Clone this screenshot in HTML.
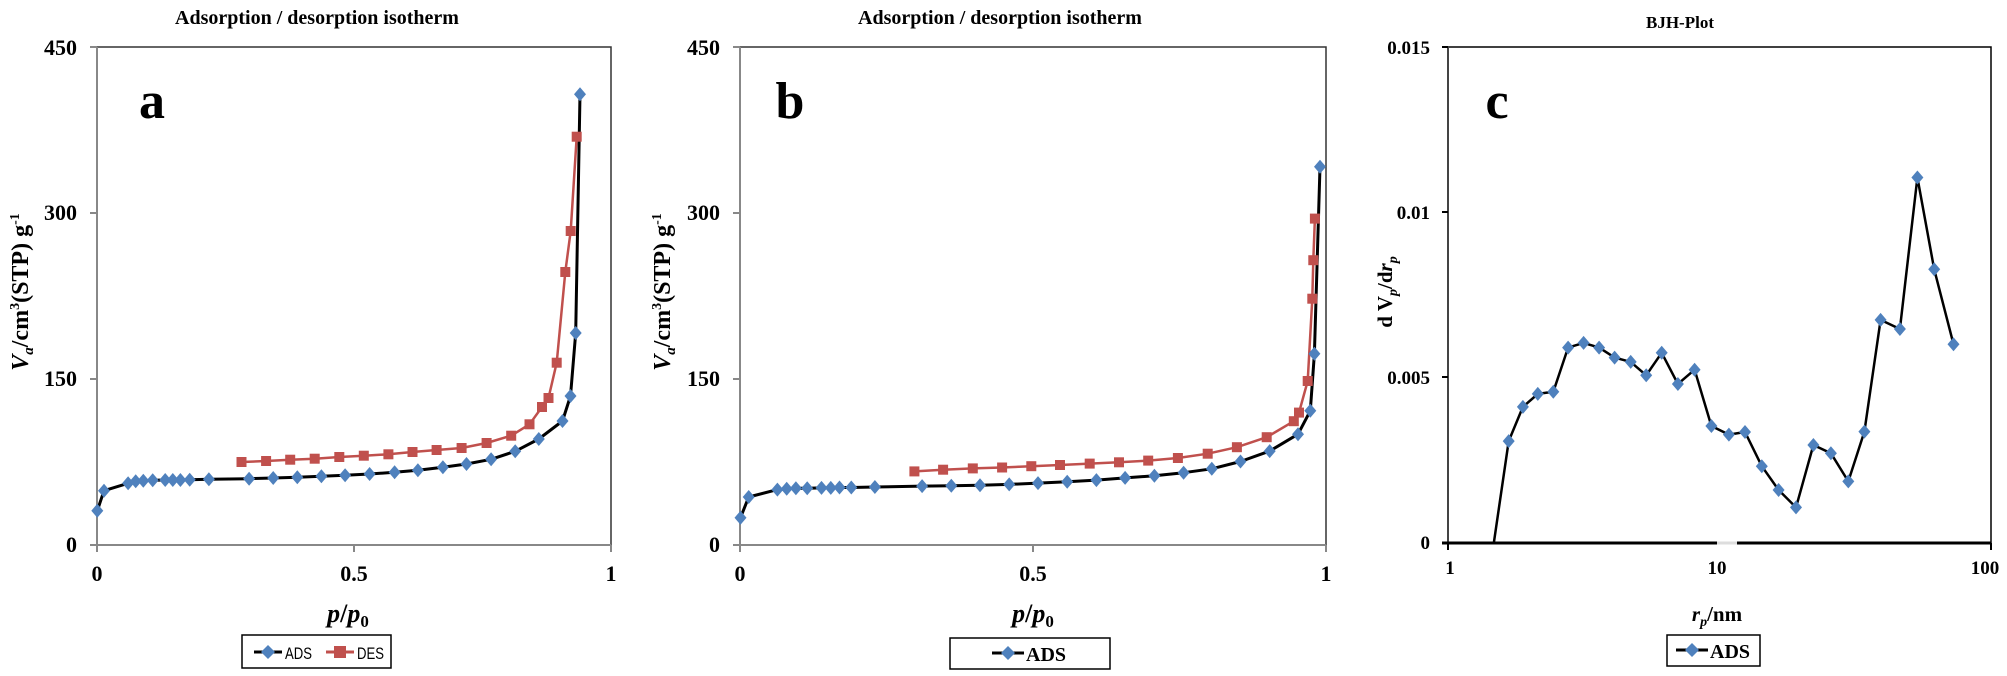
<!DOCTYPE html>
<html><head><meta charset="utf-8"><style>
html,body{margin:0;padding:0;background:#fff;}
svg{display:block;}
text{font-family:"Liberation Serif",serif;font-weight:bold;fill:#000;}
</style></head><body>
<svg id="s" width="2007" height="676" viewBox="0 0 2007 676" xmlns="http://www.w3.org/2000/svg">
<rect width="2007" height="676" fill="#fff"/>
<text x="317" y="24" font-size="20" text-anchor="middle">Adsorption / desorption isotherm</text>
<text x="1000" y="24" font-size="20" text-anchor="middle">Adsorption / desorption isotherm</text>
<text x="1680" y="28" font-size="17" text-anchor="middle">BJH-Plot</text>

<rect x="97" y="47" width="514" height="498" fill="none" stroke="#333" stroke-width="1.5"/>
<line x1="97" y1="47" x2="97" y2="545" stroke="#888" stroke-width="2"/>
<line x1="97" y1="545" x2="611" y2="545" stroke="#888" stroke-width="2"/>
<g stroke="#888" stroke-width="2">
<line x1="90" y1="47" x2="97" y2="47"/><line x1="90" y1="213" x2="97" y2="213"/><line x1="90" y1="379" x2="97" y2="379"/><line x1="90" y1="545" x2="97" y2="545"/>
<line x1="97" y1="545" x2="97" y2="552"/><line x1="354" y1="545" x2="354" y2="552"/><line x1="611" y1="545" x2="611" y2="552"/>
</g>
<g font-size="22" text-anchor="end">
<text x="77" y="55">450</text><text x="77" y="220">300</text><text x="77" y="386">150</text><text x="77" y="552">0</text>
</g>
<g font-size="22" text-anchor="middle">
<text x="97" y="581">0</text><text x="354" y="581">0.5</text><text x="611" y="581">1</text>
</g>
<text x="348" y="622" font-size="26" text-anchor="middle"><tspan font-style="italic">p</tspan>/<tspan font-style="italic">p</tspan><tspan font-size="17" dy="5">0</tspan></text>
<text x="152" y="118" font-size="52" text-anchor="middle">a</text>
<text transform="translate(28,292) rotate(-90)" font-size="24" text-anchor="middle"><tspan font-style="italic">V</tspan><tspan font-size="15" dy="5" font-style="italic">a</tspan><tspan dy="-5">/cm</tspan><tspan font-size="14" dy="-9">3</tspan><tspan dy="9">(STP) g</tspan><tspan font-size="14" dy="-9">-1</tspan></text>
<rect x="242" y="635" width="149" height="33" fill="#fff" stroke="#000" stroke-width="1.5"/>
<line x1="254" y1="652" x2="282" y2="652" stroke="#000" stroke-width="3"/>
<polygon points="268,645 275,652 268,659 261,652" fill="#4F81BD"/>
<text x="285" y="659" font-size="17" textLength="27" lengthAdjust="spacingAndGlyphs" style="font-family:'Liberation Sans',sans-serif;font-weight:normal">ADS</text>
<line x1="326" y1="652" x2="354" y2="652" stroke="#C0504D" stroke-width="3"/>
<rect x="334" y="646" width="12" height="12" fill="#C0504D"/>
<text x="357" y="659" font-size="17" textLength="27" lengthAdjust="spacingAndGlyphs" style="font-family:'Liberation Sans',sans-serif;font-weight:normal">DES</text>

<rect x="740" y="47" width="586" height="498" fill="none" stroke="#333" stroke-width="1.5"/>
<line x1="740" y1="47" x2="740" y2="545" stroke="#888" stroke-width="2"/>
<line x1="740" y1="545" x2="1326" y2="545" stroke="#888" stroke-width="2"/>
<g stroke="#888" stroke-width="2">
<line x1="733" y1="47" x2="740" y2="47"/><line x1="733" y1="213" x2="740" y2="213"/><line x1="733" y1="379" x2="740" y2="379"/><line x1="733" y1="545" x2="740" y2="545"/>
<line x1="740" y1="545" x2="740" y2="552"/><line x1="1033" y1="545" x2="1033" y2="552"/><line x1="1326" y1="545" x2="1326" y2="552"/>
</g>
<g font-size="22" text-anchor="end">
<text x="720" y="55">450</text><text x="720" y="220">300</text><text x="720" y="386">150</text><text x="720" y="552">0</text>
</g>
<g font-size="22" text-anchor="middle">
<text x="740" y="581">0</text><text x="1033" y="581">0.5</text><text x="1326" y="581">1</text>
</g>
<text x="1033" y="622" font-size="26" text-anchor="middle"><tspan font-style="italic">p</tspan>/<tspan font-style="italic">p</tspan><tspan font-size="17" dy="5">0</tspan></text>
<text x="790" y="118" font-size="52" text-anchor="middle">b</text>
<text transform="translate(670,292) rotate(-90)" font-size="24" text-anchor="middle"><tspan font-style="italic">V</tspan><tspan font-size="15" dy="5" font-style="italic">a</tspan><tspan dy="-5">/cm</tspan><tspan font-size="14" dy="-9">3</tspan><tspan dy="9">(STP) g</tspan><tspan font-size="14" dy="-9">-1</tspan></text>
<rect x="950" y="638" width="160" height="31" fill="#fff" stroke="#000" stroke-width="1.5"/>
<line x1="992" y1="653" x2="1024" y2="653" stroke="#000" stroke-width="3"/>
<polygon points="1008,646 1015,653 1008,660 1001,653" fill="#4F81BD"/>
<text x="1026" y="661" font-size="20">ADS</text>

<rect x="1448" y="47" width="543" height="496" fill="none" stroke="#000" stroke-width="1.5"/>
<line x1="1448" y1="47" x2="1448" y2="543" stroke="#444" stroke-width="2"/>
<line x1="1442" y1="543" x2="1991" y2="543" stroke="#000" stroke-width="3"/>
<line x1="1717" y1="543" x2="1737" y2="543" stroke="#ddd" stroke-width="3"/>
<g stroke="#000" stroke-width="2">
<line x1="1442" y1="47" x2="1448" y2="47"/><line x1="1442" y1="212" x2="1448" y2="212"/><line x1="1442" y1="377" x2="1448" y2="377"/>
<line x1="1448" y1="543" x2="1448" y2="550"/><line x1="1991" y1="543" x2="1991" y2="550"/>
</g>
<g font-size="19" text-anchor="end">
<text x="1430" y="54">0.015</text><text x="1430" y="219">0.01</text><text x="1430" y="384">0.005</text><text x="1430" y="549">0</text>
</g>
<g font-size="19" text-anchor="middle">
<text x="1450" y="574">1</text><text x="1717" y="574">10</text><text x="1985" y="574">100</text>
</g>
<text x="1717" y="621" font-size="21" text-anchor="middle"><tspan font-style="italic">r</tspan><tspan font-size="14" dy="5" font-style="italic">p</tspan><tspan dy="-5">/nm</tspan></text>
<text x="1497" y="118" font-size="52" text-anchor="middle">c</text>
<text transform="translate(1392,292) rotate(-90)" font-size="21" text-anchor="middle">d V<tspan font-size="14" dy="5" font-style="italic">p</tspan><tspan dy="-5">/d</tspan><tspan font-style="italic">r</tspan><tspan font-size="14" dy="5" font-style="italic">p</tspan></text>
<rect x="1667" y="635" width="93" height="31" fill="#fff" stroke="#000" stroke-width="1.5"/>
<line x1="1676" y1="650" x2="1708" y2="650" stroke="#000" stroke-width="3"/>
<polygon points="1692,643 1699,650 1692,657 1685,650" fill="#4F81BD"/>
<text x="1710" y="658" font-size="20">ADS</text>

<g id="data"></g>
</svg>
<script>
var ns="http://www.w3.org/2000/svg",g=document.getElementById("data");
function line(pts,col,w){var p=document.createElementNS(ns,"polyline");p.setAttribute("points",pts.map(function(a){return a.join(",")}).join(" "));p.setAttribute("fill","none");p.setAttribute("stroke",col);p.setAttribute("stroke-width",w);p.setAttribute("stroke-linejoin","round");g.appendChild(p);}
function dia(pts,h,v){pts.forEach(function(a){var p=document.createElementNS(ns,"polygon");var x=a[0],y=a[1];p.setAttribute("points",[x,y-v,x+h,y,x,y+v,x-h,y].join(" "));p.setAttribute("fill","#4F81BD");g.appendChild(p);});}
function sq(pts,s){pts.forEach(function(a){var r=document.createElementNS(ns,"rect");r.setAttribute("x",a[0]-s/2);r.setAttribute("y",a[1]-s/2);r.setAttribute("width",s);r.setAttribute("height",s);r.setAttribute("fill","#C0504D");g.appendChild(r);});}
var aA=[[97.3,510.7],[104,490.7],[128.1,483.3],[135.7,481.3],[143.3,480.7],[152.7,480.3],[165.2,480],[172.8,480],[180.4,480],[189.7,479.7],[208.9,479.3],[249.1,478.7],[273.2,478],[297.3,477.3],[321.4,476.3],[345.1,475.3],[369.6,474],[394.6,472.3],[417.9,470.3],[442.9,467.3],[466.5,464],[491.1,459.3],[515.2,451.3],[538.8,439],[562.5,421],[570.5,396],[575.7,333],[580,94.3]];
var aD=[[241.5,462],[266.1,461],[290.2,459.7],[314.7,458.7],[339.3,457],[363.8,455.7],[388.4,454.3],[412.5,452],[436.6,450],[461.6,448],[486.6,443],[511.2,435.7],[529.5,424.3],[542,407],[548.5,398],[556.7,362.7],[565.3,272],[570.7,231],[576.7,136.7]];
var bA=[[740.5,517.7],[748.7,497],[777.4,489.6],[786.7,488.7],[795.9,488.3],[807.2,488.3],[821.5,487.9],[830.8,487.9],[839.5,487.5],[851.3,487.5],[874.9,487],[922.1,486.1],[951.3,485.7],[980,485.3],[1009.2,484.4],[1038,483.1],[1067.2,481.8],[1096.4,480.1],[1125.1,477.9],[1154.4,475.8],[1183.6,472.7],[1211.8,468.8],[1240.5,461.5],[1269.7,451.1],[1298,434.2],[1310.3,410.8],[1314.4,353.7],[1320,166.7]];
var bD=[[914.4,471.4],[943.1,469.7],[972.8,468.4],[1002.1,467.5],[1031.3,466.2],[1060,465],[1089.7,463.6],[1119,462.3],[1148.2,460.6],[1177.9,458],[1207.7,453.7],[1236.9,447.2],[1266.7,437.2],[1293.8,421.2],[1299,412.6],[1307.7,381],[1312.3,298.7],[1313.3,260.2],[1314.9,218.6]];
var cA=[[1508.7,441.1],[1522.9,406.9],[1537.8,393.9],[1553.3,391.8],[1568.1,347.6],[1583.6,342.9],[1599.1,347.6],[1614.6,357.6],[1630.7,361.9],[1646.2,375.3],[1661.7,352.8],[1677.9,384],[1694.6,369.7],[1711.4,426],[1728.9,434.6],[1745,432],[1761.8,466.2],[1778.6,490],[1796,507.4],[1813.4,445],[1830.9,453.2],[1848.3,481.4],[1864.4,431.6],[1880.6,319.9],[1899.9,329],[1917.4,177.5],[1934.2,269.3],[1953.5,344.2]];
line(aA,"#000",3);line(aD,"#C0504D",2.5);sq(aD,10);dia(aA,6,7);
line(bA,"#000",3);line(bD,"#C0504D",2.5);sq(bD,10);dia(bA,6,7);
line([[1493.9,542.4]].concat(cA),"#000",2.5);dia(cA,6,7);
</script>
</body></html>
